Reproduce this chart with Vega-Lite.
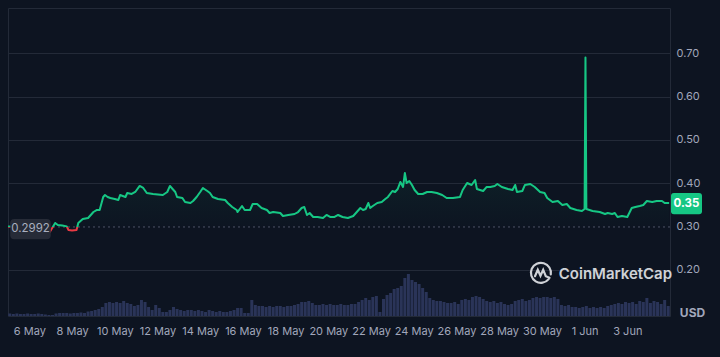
{
  "$schema": "https://vega.github.io/schema/vega-lite/v6.json",
  "width": 662,
  "height": 308,
  "autosize": {"type": "none"},
  "padding": {"left": 8, "top": 8, "right": 50, "bottom": 41},
  "background": "#0d1421",
  "config": {
    "view": {"stroke": "#232a38", "strokeWidth": 1},
    "axis": {"labelFont": "Inter", "labelFontSize": 11, "labelColor": "#a1a7bb", "domain": false, "ticks": false, "tickSize": 0, "title": null},
    "text": {"font": "Inter"}
  },
  "datasets": {
    "price": [
      {"t":"2024-05-05T00:00","p":0.3},{"t":"2024-05-05T13:00","p":0.299},{"t":"2024-05-06T06:00","p":0.295},{"t":"2024-05-06T18:00","p":0.291},{"t":"2024-05-06T23:00","p":0.2876},
      {"t":"2024-05-07T05:00","p":0.3084},{"t":"2024-05-07T08:00","p":0.3037},{"t":"2024-05-07T13:00","p":0.3025},{"t":"2024-05-07T18:00","p":0.3005},{"t":"2024-05-07T20:00","p":0.2922},
      {"t":"2024-05-08T00:00","p":0.291},{"t":"2024-05-08T05:00","p":0.2922},{"t":"2024-05-08T07:00","p":0.3084},{"t":"2024-05-08T12:00","p":0.3176},{"t":"2024-05-08T18:00","p":0.3199},
      {"t":"2024-05-09T00:00","p":0.3337},{"t":"2024-05-09T04:00","p":0.3384},{"t":"2024-05-09T07:00","p":0.3384},{"t":"2024-05-09T11:00","p":0.3684},{"t":"2024-05-09T13:00","p":0.373},{"t":"2024-05-09T16:00","p":0.3684},{"t":"2024-05-09T19:00","p":0.3661},
      {"t":"2024-05-10T00:00","p":0.3638},{"t":"2024-05-10T04:00","p":0.3614},{"t":"2024-05-10T06:00","p":0.373},{"t":"2024-05-10T12:00","p":0.3684},{"t":"2024-05-10T14:00","p":0.3776},{"t":"2024-05-10T19:00","p":0.3753},{"t":"2024-05-10T23:00","p":0.3799},
      {"t":"2024-05-11T04:00","p":0.3938},{"t":"2024-05-11T08:00","p":0.3892},{"t":"2024-05-11T12:00","p":0.3776},{"t":"2024-05-11T19:00","p":0.3753},
      {"t":"2024-05-12T06:00","p":0.373},{"t":"2024-05-12T11:00","p":0.3799},{"t":"2024-05-12T14:00","p":0.3938},{"t":"2024-05-12T17:00","p":0.3868},{"t":"2024-05-12T20:00","p":0.3799},{"t":"2024-05-12T22:00","p":0.3684},
      {"t":"2024-05-13T04:00","p":0.3661},{"t":"2024-05-13T07:00","p":0.3568},{"t":"2024-05-13T13:00","p":0.3545},{"t":"2024-05-13T16:00","p":0.3591},{"t":"2024-05-13T20:00","p":0.3684},
      {"t":"2024-05-14T00:00","p":0.3799},{"t":"2024-05-14T03:00","p":0.3892},{"t":"2024-05-14T08:00","p":0.3822},{"t":"2024-05-14T11:00","p":0.3776},{"t":"2024-05-14T14:00","p":0.3684},{"t":"2024-05-14T20:00","p":0.3638},
      {"t":"2024-05-15T04:00","p":0.3614},{"t":"2024-05-15T07:00","p":0.3545},{"t":"2024-05-15T12:00","p":0.3453},{"t":"2024-05-15T17:00","p":0.3384},{"t":"2024-05-15T18:00","p":0.3337},{"t":"2024-05-15T23:00","p":0.3476},
      {"t":"2024-05-16T02:00","p":0.3384},{"t":"2024-05-16T08:00","p":0.3384},{"t":"2024-05-16T11:00","p":0.3522},{"t":"2024-05-16T16:00","p":0.3522},{"t":"2024-05-16T21:00","p":0.343},
      {"t":"2024-05-17T03:00","p":0.3384},{"t":"2024-05-17T06:00","p":0.3314},{"t":"2024-05-17T10:00","p":0.3337},{"t":"2024-05-17T18:00","p":0.3314},{"t":"2024-05-17T21:00","p":0.3245},
      {"t":"2024-05-18T03:00","p":0.3268},{"t":"2024-05-18T10:00","p":0.3291},{"t":"2024-05-18T14:00","p":0.3337},{"t":"2024-05-18T18:00","p":0.343},{"t":"2024-05-18T21:00","p":0.3453},
      {"t":"2024-05-19T00:00","p":0.3268},{"t":"2024-05-19T03:00","p":0.3314},{"t":"2024-05-19T07:00","p":0.3222},{"t":"2024-05-19T12:00","p":0.3222},{"t":"2024-05-19T18:00","p":0.3199},{"t":"2024-05-19T22:00","p":0.3268},
      {"t":"2024-05-20T02:00","p":0.3222},{"t":"2024-05-20T07:00","p":0.3222},{"t":"2024-05-20T11:00","p":0.3268},{"t":"2024-05-20T16:00","p":0.3222},{"t":"2024-05-20T22:00","p":0.3199},
      {"t":"2024-05-21T04:00","p":0.3245},{"t":"2024-05-21T08:00","p":0.3337},{"t":"2024-05-21T12:00","p":0.343},{"t":"2024-05-21T15:00","p":0.3384},{"t":"2024-05-21T18:00","p":0.3407},{"t":"2024-05-21T21:00","p":0.3545},{"t":"2024-05-21T23:00","p":0.343},
      {"t":"2024-05-22T02:00","p":0.3476},{"t":"2024-05-22T07:00","p":0.3545},{"t":"2024-05-22T12:00","p":0.3568},{"t":"2024-05-22T16:00","p":0.3638},{"t":"2024-05-22T19:00","p":0.3684},
      {"t":"2024-05-23T00:00","p":0.3822},{"t":"2024-05-23T03:00","p":0.3799},{"t":"2024-05-23T06:00","p":0.3868},{"t":"2024-05-23T09:00","p":0.403},{"t":"2024-05-23T12:00","p":0.3915},{"t":"2024-05-23T14:00","p":0.4237},{"t":"2024-05-23T16:00","p":0.4007},{"t":"2024-05-23T19:00","p":0.4053},{"t":"2024-05-23T22:00","p":0.3961},
      {"t":"2024-05-24T01:00","p":0.3845},{"t":"2024-05-24T05:00","p":0.3753},{"t":"2024-05-24T10:00","p":0.3753},{"t":"2024-05-24T15:00","p":0.3799},{"t":"2024-05-24T20:00","p":0.3799},
      {"t":"2024-05-25T02:00","p":0.3776},{"t":"2024-05-25T08:00","p":0.373},{"t":"2024-05-25T13:00","p":0.3661},{"t":"2024-05-25T20:00","p":0.3661},
      {"t":"2024-05-26T04:00","p":0.3684},{"t":"2024-05-26T07:00","p":0.3845},{"t":"2024-05-26T12:00","p":0.4007},{"t":"2024-05-26T17:00","p":0.3961},{"t":"2024-05-26T21:00","p":0.4076},{"t":"2024-05-26T23:00","p":0.3868},
      {"t":"2024-05-27T06:00","p":0.3822},{"t":"2024-05-27T10:00","p":0.3915},{"t":"2024-05-27T14:00","p":0.3915},{"t":"2024-05-27T19:00","p":0.3938},{"t":"2024-05-27T22:00","p":0.3984},
      {"t":"2024-05-28T03:00","p":0.3915},{"t":"2024-05-28T10:00","p":0.3868},{"t":"2024-05-28T15:00","p":0.3845},{"t":"2024-05-28T18:00","p":0.3961},{"t":"2024-05-28T20:00","p":0.3799},
      {"t":"2024-05-29T02:00","p":0.3822},{"t":"2024-05-29T05:00","p":0.3961},{"t":"2024-05-29T11:00","p":0.3984},{"t":"2024-05-29T16:00","p":0.3915},{"t":"2024-05-29T22:00","p":0.3799},
      {"t":"2024-05-30T03:00","p":0.3776},{"t":"2024-05-30T06:00","p":0.3661},{"t":"2024-05-30T09:00","p":0.3614},{"t":"2024-05-30T12:00","p":0.3568},{"t":"2024-05-30T18:00","p":0.3591},{"t":"2024-05-30T23:00","p":0.3499},
      {"t":"2024-05-31T04:00","p":0.3522},{"t":"2024-05-31T08:00","p":0.343},{"t":"2024-05-31T15:00","p":0.3384},{"t":"2024-05-31T21:00","p":0.3361},
      {"t":"2024-06-01T00:00","p":0.3407},{"t":"2024-06-01T01:00","p":0.69},{"t":"2024-06-01T02:00","p":0.3407},{"t":"2024-06-01T09:00","p":0.3361},{"t":"2024-06-01T17:00","p":0.3337},{"t":"2024-06-01T23:00","p":0.3291},
      {"t":"2024-06-02T02:00","p":0.3314},{"t":"2024-06-02T07:00","p":0.3291},{"t":"2024-06-02T10:00","p":0.3314},{"t":"2024-06-02T13:00","p":0.3222},{"t":"2024-06-02T18:00","p":0.3245},
      {"t":"2024-06-03T00:00","p":0.3222},{"t":"2024-06-03T05:00","p":0.343},{"t":"2024-06-03T09:00","p":0.3453},{"t":"2024-06-03T14:00","p":0.3476},{"t":"2024-06-03T18:00","p":0.3499},{"t":"2024-06-03T22:00","p":0.3591},
      {"t":"2024-06-04T04:00","p":0.3568},{"t":"2024-06-04T09:00","p":0.3591},{"t":"2024-06-04T15:00","p":0.3591},{"t":"2024-06-04T18:00","p":0.3545},{"t":"2024-06-04T23:00","p":0.3545}
    ],
    "vol": [
      {"t":"2024-05-05T02:00","v":2.5},{"t":"2024-05-05T06:00","v":2},{"t":"2024-05-05T10:00","v":2.5},{"t":"2024-05-05T14:00","v":2},{"t":"2024-05-05T18:00","v":2},{"t":"2024-05-05T22:00","v":2.5},
      {"t":"2024-05-06T02:00","v":2},{"t":"2024-05-06T06:00","v":2},{"t":"2024-05-06T10:00","v":2.5},{"t":"2024-05-06T14:00","v":2},{"t":"2024-05-06T18:00","v":1.5},{"t":"2024-05-06T22:00","v":1},
      {"t":"2024-05-07T02:00","v":1},{"t":"2024-05-07T06:00","v":2.5},{"t":"2024-05-07T10:00","v":3},{"t":"2024-05-07T14:00","v":3},{"t":"2024-05-07T18:00","v":3},{"t":"2024-05-07T22:00","v":2.5},
      {"t":"2024-05-08T02:00","v":3},{"t":"2024-05-08T06:00","v":3},{"t":"2024-05-08T10:00","v":3.5},{"t":"2024-05-08T14:00","v":3},{"t":"2024-05-08T18:00","v":4.5},{"t":"2024-05-08T22:00","v":5},
      {"t":"2024-05-09T02:00","v":6},{"t":"2024-05-09T06:00","v":7},{"t":"2024-05-09T10:00","v":9},{"t":"2024-05-09T14:00","v":13},{"t":"2024-05-09T18:00","v":14},{"t":"2024-05-09T22:00","v":13},
      {"t":"2024-05-10T02:00","v":14},{"t":"2024-05-10T06:00","v":13},{"t":"2024-05-10T10:00","v":15},{"t":"2024-05-10T14:00","v":13},{"t":"2024-05-10T18:00","v":12},{"t":"2024-05-10T22:00","v":10},
      {"t":"2024-05-11T02:00","v":11},{"t":"2024-05-11T06:00","v":16},{"t":"2024-05-11T10:00","v":14},{"t":"2024-05-11T14:00","v":9},{"t":"2024-05-11T18:00","v":6},{"t":"2024-05-11T22:00","v":11},
      {"t":"2024-05-12T02:00","v":8},{"t":"2024-05-12T06:00","v":4},{"t":"2024-05-12T10:00","v":4},{"t":"2024-05-12T14:00","v":6},{"t":"2024-05-12T18:00","v":9},{"t":"2024-05-12T22:00","v":7},
      {"t":"2024-05-13T02:00","v":6},{"t":"2024-05-13T06:00","v":5},{"t":"2024-05-13T10:00","v":6},{"t":"2024-05-13T14:00","v":6},{"t":"2024-05-13T18:00","v":5},{"t":"2024-05-13T22:00","v":6},
      {"t":"2024-05-14T02:00","v":5},{"t":"2024-05-14T06:00","v":4},{"t":"2024-05-14T10:00","v":6},{"t":"2024-05-14T14:00","v":5},{"t":"2024-05-14T18:00","v":4},{"t":"2024-05-14T22:00","v":5},
      {"t":"2024-05-15T02:00","v":4},{"t":"2024-05-15T06:00","v":4},{"t":"2024-05-15T10:00","v":5},{"t":"2024-05-15T14:00","v":6},{"t":"2024-05-15T18:00","v":8},{"t":"2024-05-15T22:00","v":8},
      {"t":"2024-05-16T02:00","v":3},{"t":"2024-05-16T06:00","v":3},{"t":"2024-05-16T10:00","v":16},{"t":"2024-05-16T14:00","v":11},{"t":"2024-05-16T18:00","v":10},{"t":"2024-05-16T22:00","v":10},
      {"t":"2024-05-17T02:00","v":9},{"t":"2024-05-17T06:00","v":10},{"t":"2024-05-17T10:00","v":9},{"t":"2024-05-17T14:00","v":10},{"t":"2024-05-17T18:00","v":10},{"t":"2024-05-17T22:00","v":9},
      {"t":"2024-05-18T02:00","v":10},{"t":"2024-05-18T06:00","v":10},{"t":"2024-05-18T10:00","v":11},{"t":"2024-05-18T14:00","v":12},{"t":"2024-05-18T18:00","v":14},{"t":"2024-05-18T22:00","v":14},
      {"t":"2024-05-19T02:00","v":15},{"t":"2024-05-19T06:00","v":13},{"t":"2024-05-19T10:00","v":11},{"t":"2024-05-19T14:00","v":11},{"t":"2024-05-19T18:00","v":12},{"t":"2024-05-19T22:00","v":11},
      {"t":"2024-05-20T02:00","v":12},{"t":"2024-05-20T06:00","v":11},{"t":"2024-05-20T10:00","v":11},{"t":"2024-05-20T14:00","v":12},{"t":"2024-05-20T18:00","v":11},{"t":"2024-05-20T22:00","v":11},
      {"t":"2024-05-21T02:00","v":12},{"t":"2024-05-21T06:00","v":12},{"t":"2024-05-21T10:00","v":14},{"t":"2024-05-21T14:00","v":16},{"t":"2024-05-21T18:00","v":18},{"t":"2024-05-21T22:00","v":16},
      {"t":"2024-05-22T02:00","v":19},{"t":"2024-05-22T06:00","v":20},{"t":"2024-05-22T10:00","v":4},{"t":"2024-05-22T14:00","v":17},{"t":"2024-05-22T18:00","v":21},{"t":"2024-05-22T22:00","v":23},
      {"t":"2024-05-23T02:00","v":27},{"t":"2024-05-23T06:00","v":28},{"t":"2024-05-23T10:00","v":30},{"t":"2024-05-23T14:00","v":38},{"t":"2024-05-23T18:00","v":42},{"t":"2024-05-23T22:00","v":36},
      {"t":"2024-05-24T02:00","v":34},{"t":"2024-05-24T06:00","v":32},{"t":"2024-05-24T10:00","v":28},{"t":"2024-05-24T14:00","v":24},{"t":"2024-05-24T18:00","v":18},{"t":"2024-05-24T22:00","v":16},
      {"t":"2024-05-25T02:00","v":15},{"t":"2024-05-25T06:00","v":15},{"t":"2024-05-25T10:00","v":14},{"t":"2024-05-25T14:00","v":13},{"t":"2024-05-25T18:00","v":13},{"t":"2024-05-25T22:00","v":14},
      {"t":"2024-05-26T02:00","v":12},{"t":"2024-05-26T06:00","v":16},{"t":"2024-05-26T10:00","v":17},{"t":"2024-05-26T14:00","v":16},{"t":"2024-05-26T18:00","v":19},{"t":"2024-05-26T22:00","v":20},
      {"t":"2024-05-27T02:00","v":19},{"t":"2024-05-27T06:00","v":17},{"t":"2024-05-27T10:00","v":15},{"t":"2024-05-27T14:00","v":14},{"t":"2024-05-27T18:00","v":15},{"t":"2024-05-27T22:00","v":13},
      {"t":"2024-05-28T02:00","v":14},{"t":"2024-05-28T06:00","v":12},{"t":"2024-05-28T10:00","v":11},{"t":"2024-05-28T14:00","v":12},{"t":"2024-05-28T18:00","v":15},{"t":"2024-05-28T22:00","v":16},
      {"t":"2024-05-29T02:00","v":17},{"t":"2024-05-29T06:00","v":15},{"t":"2024-05-29T10:00","v":16},{"t":"2024-05-29T14:00","v":18},{"t":"2024-05-29T18:00","v":19},{"t":"2024-05-29T22:00","v":18},
      {"t":"2024-05-30T02:00","v":19},{"t":"2024-05-30T06:00","v":19},{"t":"2024-05-30T10:00","v":18},{"t":"2024-05-30T14:00","v":19},{"t":"2024-05-30T18:00","v":17},{"t":"2024-05-30T22:00","v":11},
      {"t":"2024-05-31T02:00","v":10},{"t":"2024-05-31T06:00","v":11},{"t":"2024-05-31T10:00","v":9},{"t":"2024-05-31T14:00","v":9},{"t":"2024-05-31T18:00","v":8},{"t":"2024-05-31T22:00","v":9},
      {"t":"2024-06-01T02:00","v":10},{"t":"2024-06-01T06:00","v":8},{"t":"2024-06-01T10:00","v":9},{"t":"2024-06-01T14:00","v":8},{"t":"2024-06-01T18:00","v":9},{"t":"2024-06-01T22:00","v":8},
      {"t":"2024-06-02T02:00","v":10},{"t":"2024-06-02T06:00","v":11},{"t":"2024-06-02T10:00","v":12},{"t":"2024-06-02T14:00","v":13},{"t":"2024-06-02T18:00","v":12},{"t":"2024-06-02T22:00","v":14},
      {"t":"2024-06-03T02:00","v":13},{"t":"2024-06-03T06:00","v":14},{"t":"2024-06-03T10:00","v":12},{"t":"2024-06-03T14:00","v":15},{"t":"2024-06-03T18:00","v":14},{"t":"2024-06-03T22:00","v":18},
      {"t":"2024-06-04T02:00","v":13},{"t":"2024-06-04T06:00","v":15},{"t":"2024-06-04T10:00","v":14},{"t":"2024-06-04T14:00","v":12},{"t":"2024-06-04T18:00","v":16},{"t":"2024-06-04T22:00","v":10}
    ]
  },
  "encoding": {
    "x": {
      "field": "t",
      "type": "temporal",
      "scale": {"domain": [{"year": 2024, "month": 5, "date": 5}, {"year": 2024, "month": 6, "date": 5}], "padding": 0},
      "axis": {
        "values": [
          {"year": 2024, "month": 5, "date": 6}, {"year": 2024, "month": 5, "date": 8}, {"year": 2024, "month": 5, "date": 10},
          {"year": 2024, "month": 5, "date": 12}, {"year": 2024, "month": 5, "date": 14}, {"year": 2024, "month": 5, "date": 16},
          {"year": 2024, "month": 5, "date": 18}, {"year": 2024, "month": 5, "date": 20}, {"year": 2024, "month": 5, "date": 22},
          {"year": 2024, "month": 5, "date": 24}, {"year": 2024, "month": 5, "date": 26}, {"year": 2024, "month": 5, "date": 28},
          {"year": 2024, "month": 5, "date": 30}, {"year": 2024, "month": 6, "date": 1}, {"year": 2024, "month": 6, "date": 3}
        ],
        "format": "%-d %b",
        "grid": false,
        "labelPadding": 9,
        "labelOverlap": false,
        "labelFlush": false,
        "title": null
      }
    }
  },
  "layer": [
    {
      "data": {"name": "vol"},
      "mark": {"type": "bar", "width": 3, "color": "#2a3458"},
      "encoding": {
        "y": {"field": "v", "type": "quantitative", "scale": {"domain": [0, 308]}, "axis": null}
      }
    },
    {
      "encoding": {
        "y": {
          "field": "p",
          "type": "quantitative",
          "scale": {"domain": [0.0937, 0.8045], "zero": false, "nice": false},
          "axis": {
            "orient": "right",
            "values": [0.2, 0.3, 0.4, 0.5, 0.6, 0.7],
            "format": ".2f",
            "grid": true,
            "gridColor": "#232a38",
            "gridOpacity": {"condition": {"test": "datum.value == 0.3", "value": 0}, "value": 1},
            "labelPadding": 6,
            "title": null
          }
        }
      },
      "layer": [
        {
          "data": {"name": "price"},
          "mark": {
            "type": "area",
            "fill": {
              "gradient": "linear", "x1": 0, "y1": 0, "x2": 0, "y2": 1,
              "stops": [
                {"offset": 0, "color": "rgba(22,199,132,0.12)"},
                {"offset": 0.7, "color": "rgba(22,199,132,0.06)"},
                {"offset": 1, "color": "rgba(22,199,132,0.0)"}
              ]
            }
          },
          "encoding": {"y2": {"datum": 0.2992}}
        },
        {
          "data": {"values": [{"t": "2024-05-05T00:00", "t2": "2024-06-05T00:00", "p": 0.2992}]},
          "mark": {"type": "rule", "strokeDash": [2, 3], "color": "#4d5465", "strokeWidth": 1},
          "encoding": {"x2": {"field": "t2"}}
        },
        {
          "data": {"name": "price"},
          "mark": {
            "type": "line",
            "strokeWidth": 2,
            "strokeJoin": "round",
            "stroke": {
              "gradient": "linear", "x1": 0, "y1": 0, "x2": 0, "y2": 1,
              "stops": [
                {"offset": 0, "color": "#16c784"},
                {"offset": 0.9712, "color": "#16c784"},
                {"offset": 0.9712, "color": "#ea3943"},
                {"offset": 1, "color": "#ea3943"}
              ]
            }
          }
        },
        {
          "data": {"values": [{"t": "2024-05-05T00:00", "p": 0.294, "txt": "0.2992"}]},
          "mark": {
            "type": "point",
            "shape": "M-0.8,-0.5H0.8Q1,-0.5 1,-0.3V0.3Q1,0.5 0.8,0.5H-0.8Q-1,0.5 -1,0.3V-0.3Q-1,-0.5 -0.8,-0.5Z",
            "size": 1640,
            "filled": true,
            "fill": "#262b37",
            "opacity": 1,
            "strokeWidth": 0,
            "xOffset": 22.5,
            "clip": false
          }
        },
        {
          "data": {"values": [{"t": "2024-05-05T00:00", "p": 0.294, "txt": "0.2992"}]},
          "mark": {"type": "text", "fontSize": 11.5, "color": "#a9afbf", "align": "center", "baseline": "middle", "dx": 22.5},
          "encoding": {"text": {"field": "txt"}}
        },
        {
          "data": {"values": [{"t": "2024-06-05T00:00", "p": 0.353, "txt": "0.35"}]},
          "mark": {
            "type": "point",
            "shape": "M-0.81,-0.68H0.81Q1,-0.68 1,-0.49V0.49Q1,0.68 0.81,0.68H-0.81Q-1,0.68 -1,0.49V-0.49Q-1,-0.68 -0.81,-0.68Z",
            "size": 961,
            "filled": true,
            "fill": "#16c784",
            "opacity": 1,
            "strokeWidth": 0,
            "xOffset": 16.5,
            "clip": false
          }
        },
        {
          "data": {"values": [{"t": "2024-06-05T00:00", "p": 0.353, "txt": "0.35"}]},
          "mark": {"type": "text", "fontSize": 11.5, "fontWeight": "bold", "color": "#ffffff", "align": "center", "baseline": "middle", "dx": 16.5},
          "encoding": {"text": {"field": "txt"}}
        },
        {
          "data": {"values": [{"t": "2024-06-05T00:00", "p": 0.1013, "txt": "USD"}]},
          "mark": {"type": "text", "fontSize": 12, "fontWeight": "bold", "color": "#a1a7bb", "align": "center", "baseline": "middle", "dx": 22.5},
          "encoding": {"text": {"field": "txt"}}
        },
        {
          "data": {"values": [{"t": "2024-05-29T23:00", "p": 0.1936}]},
          "mark": {
            "type": "point",
            "shape": "M0.77,0.64A1,1 0 1 1 0.98,0.17M-0.6,0.35L-0.32,-0.3L-0.05,0.3L0.22,-0.3L0.48,0.35L0.85,0.5",
            "size": 400,
            "filled": false,
            "stroke": "#e5e7eb",
            "strokeWidth": 2.2,
            "strokeCap": "round",
            "opacity": 0.9
          }
        },
        {
          "data": {"values": [{"t": "2024-05-30T19:00", "p": 0.1906, "txt": "CoinMarketCap"}]},
          "mark": {"type": "text", "fontSize": 15, "fontWeight": 600, "color": "#e5e7eb", "opacity": 0.9, "align": "left", "baseline": "middle"},
          "encoding": {"text": {"field": "txt"}}
        }
      ]
    }
  ],
  "resolve": {"scale": {"y": "independent"}}
}
